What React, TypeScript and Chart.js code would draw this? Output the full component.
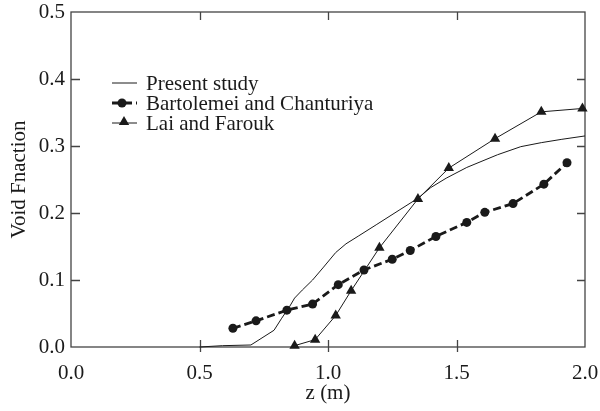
import React, { useEffect, useRef } from "react";
import { Chart, registerables } from "chart.js";

Chart.register(...registerables);

// Axial position z (m) and void fraction for each curve
const presentZ = [0.5, 0.59, 0.7, 0.79, 0.82, 0.85, 0.87, 0.9, 0.94, 0.98, 1.03, 1.07, 1.12, 1.19, 1.28, 1.35, 1.4, 1.46, 1.54, 1.66, 1.75, 1.83, 1.91, 2.0];
const presentV = [0, 0.002, 0.003, 0.025, 0.043, 0.06, 0.073, 0.085, 0.1, 0.118, 0.141, 0.154, 0.166, 0.183, 0.205, 0.222, 0.238, 0.252, 0.268, 0.287, 0.299, 0.305, 0.31, 0.315];

const bartolemeiZ = [0.63, 0.72, 0.84, 0.94, 1.04, 1.14, 1.25, 1.32, 1.42, 1.54, 1.61, 1.72, 1.84, 1.93];
const bartolemeiV = [0.028, 0.039, 0.055, 0.064, 0.093, 0.115, 0.131, 0.144, 0.165, 0.186, 0.201, 0.214, 0.243, 0.275];

const laiZ = [0.87, 0.95, 1.03, 1.09, 1.2, 1.35, 1.47, 1.65, 1.83, 1.99];
const laiV = [0.002, 0.011, 0.047, 0.084, 0.148, 0.221, 0.267, 0.311, 0.351, 0.356];

const xTickValues = [0, 0.5, 1.0, 1.5, 2.0];
const yTickValues = [0, 0.1, 0.2, 0.3, 0.4, 0.5];

const seriesNames = ["Present study", "Bartolemei and Chanturiya", "Lai and Farouk"];

const FONT = '"Liberation Serif", "Times New Roman", serif';
const INK = "#1a1a1a";
const AXIS = "#444";

const zip = (xs: number[], ys: number[]) => xs.map((x, i) => ({ x, y: ys[i] }));

function drawTriangle(ctx: CanvasRenderingContext2D, x: number, y: number, r: number) {
  ctx.beginPath();
  ctx.moveTo(x, y - r);
  ctx.lineTo(x + r * 0.866, y + r / 2);
  ctx.lineTo(x - r * 0.866, y + r / 2);
  ctx.closePath();
  ctx.fill();
}

// Box frame with inward tick marks on all four sides
const framePlugin = {
  id: "frame",
  beforeDatasetsDraw(chart: any) {
    const { ctx, chartArea } = chart;
    const { left, right, top, bottom } = chartArea;
    const xs = chart.scales.x;
    const ys = chart.scales.y;
    ctx.save();
    ctx.strokeStyle = AXIS;
    ctx.lineWidth = 1.3;
    ctx.strokeRect(left, top, right - left, bottom - top);
    ctx.beginPath();
    xTickValues.slice(1, -1).forEach((v) => {
      const px = Math.round(xs.getPixelForValue(v)) + 0.5;
      ctx.moveTo(px, bottom + 5);
      ctx.lineTo(px, bottom - 7);
      ctx.moveTo(px, top);
      ctx.lineTo(px, top + 8);
    });
    yTickValues.slice(1, -1).forEach((v) => {
      const py = Math.round(ys.getPixelForValue(v)) + 0.5;
      ctx.moveTo(left, py);
      ctx.lineTo(left + 9, py);
      ctx.moveTo(right, py);
      ctx.lineTo(right - 8, py);
    });
    ctx.stroke();
    ctx.restore();
  },
};

// Legend drawn inside the plot area, each sample a short line with its marker
const legendPlugin = {
  id: "innerLegend",
  afterDatasetsDraw(chart: any) {
    const { ctx } = chart;
    const x0 = 112;
    const x1 = 137;
    const xm = 124;
    const rows = [83, 103, 123];
    ctx.save();
    ctx.fillStyle = INK;
    ctx.strokeStyle = INK;

    // Present study
    ctx.lineWidth = 1;
    ctx.beginPath();
    ctx.moveTo(x0, rows[0]);
    ctx.lineTo(x1, rows[0]);
    ctx.stroke();

    // Bartolemei and Chanturiya
    ctx.lineWidth = 2.8;
    ctx.setLineDash([8, 4]);
    ctx.beginPath();
    ctx.moveTo(x0, rows[1]);
    ctx.lineTo(x1, rows[1]);
    ctx.stroke();
    ctx.setLineDash([]);
    ctx.beginPath();
    ctx.arc(xm - 2, rows[1], 4.5, 0, Math.PI * 2);
    ctx.fill();

    // Lai and Farouk
    ctx.lineWidth = 1;
    ctx.beginPath();
    ctx.moveTo(x0, rows[2]);
    ctx.lineTo(x1, rows[2]);
    ctx.stroke();
    drawTriangle(ctx, xm, rows[2] - 1, 6);

    ctx.font = `21px ${FONT}`;
    ctx.textBaseline = "alphabetic";
    ctx.textAlign = "left";
    seriesNames.forEach((name, i) => ctx.fillText(name, 146, rows[i] + 7));
    ctx.restore();
  },
};

export default function App() {
  const canvasRef = useRef<HTMLCanvasElement | null>(null);

  useEffect(() => {
    document.body.style.margin = "0";
    const canvas = canvasRef.current;
    if (!canvas) return;

    const chart = new Chart(canvas, {
      type: "scatter",
      data: {
        datasets: [
          {
            label: seriesNames[0],
            data: zip(presentZ, presentV),
            showLine: true,
            borderColor: INK,
            borderWidth: 1,
            pointRadius: 0,
            clip: false as any,
          },
          {
            label: seriesNames[1],
            data: zip(bartolemeiZ, bartolemeiV),
            showLine: true,
            borderColor: INK,
            borderWidth: 2.8,
            borderDash: [8, 4],
            pointStyle: "circle",
            pointRadius: 4.5,
            pointBackgroundColor: INK,
            pointBorderColor: INK,
            pointBorderWidth: 0,
            clip: false as any,
          },
          {
            label: seriesNames[2],
            data: zip(laiZ, laiV),
            showLine: true,
            borderColor: INK,
            borderWidth: 1,
            pointStyle: "triangle",
            pointRadius: 6,
            pointBackgroundColor: INK,
            pointBorderColor: INK,
            pointBorderWidth: 0,
            clip: false as any,
          },
        ],
      },
      options: {
        responsive: false,
        animation: false,
        layout: { padding: { top: 12, right: 15, left: 0, bottom: 0 } },
        plugins: {
          legend: { display: false },
          tooltip: { enabled: false },
        },
        scales: {
          x: {
            type: "linear",
            min: 0,
            max: 2,
            grid: { display: false, drawTicks: false },
            border: { display: false },
            afterBuildTicks: (s: any) => {
              s.ticks = xTickValues.map((value) => ({ value }));
            },
            afterFit: (s: any) => {
              s.height = 64;
              s.paddingLeft = 0;
              s.paddingRight = 0;
            },
            ticks: {
              color: INK,
              padding: 14,
              maxRotation: 0,
              autoSkip: false,
              font: { family: FONT, size: 21 },
              callback: (v: any) => Number(v).toFixed(1),
            },
            title: {
              display: true,
              text: "z (m)",
              color: INK,
              font: { family: FONT, size: 21 },
              padding: { top: 5, bottom: 5 },
            },
          },
          y: {
            type: "linear",
            min: 0,
            max: 0.5,
            grid: { display: false, drawTicks: false },
            border: { display: false },
            afterBuildTicks: (s: any) => {
              s.ticks = yTickValues.map((value) => ({ value }));
            },
            afterFit: (s: any) => {
              s.width = 71;
              s.paddingTop = 0;
              s.paddingBottom = 0;
            },
            ticks: {
              color: INK,
              padding: 6,
              autoSkip: false,
              font: { family: FONT, size: 21 },
              callback: (v: any) => Number(v).toFixed(1),
            },
            title: {
              display: true,
              text: "Void Fnaction",
              color: INK,
              font: { family: FONT, size: 21 },
              padding: { top: 7, bottom: 7 },
            },
          },
        },
      },
      plugins: [framePlugin, legendPlugin],
    });

    return () => chart.destroy();
  }, []);

  return <canvas ref={canvasRef} width={600} height={411} style={{ display: "block" }} />;
}
